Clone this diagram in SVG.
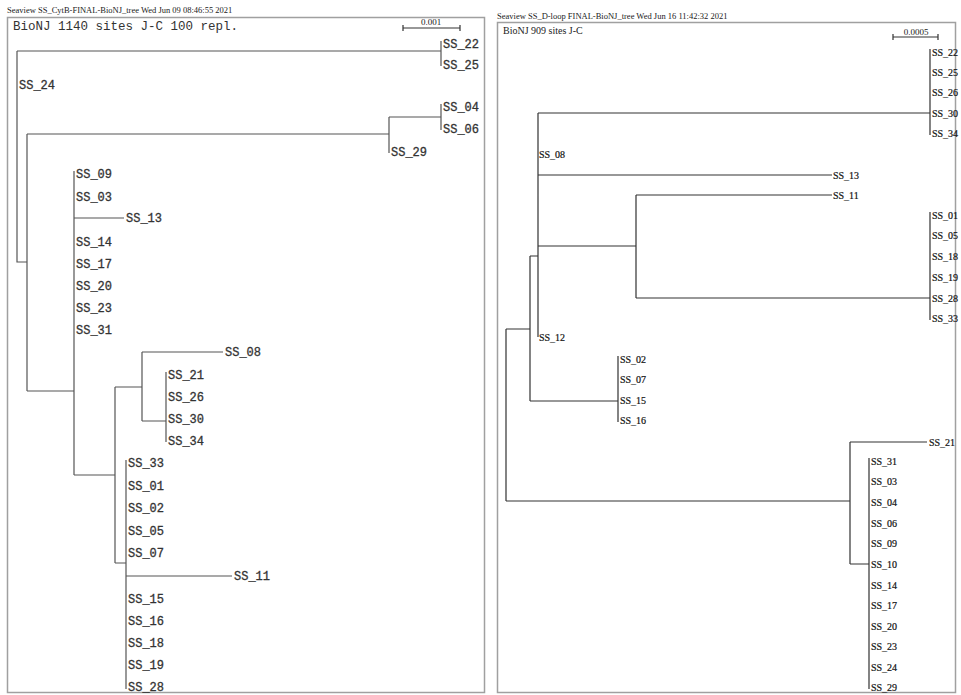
<svg xmlns="http://www.w3.org/2000/svg" width="961" height="695" viewBox="0 0 961 695">
<style>
.frame{fill:#fff;stroke:#a0a0a0;stroke-width:1.5}
.br{fill:none;stroke:#555;stroke-width:1.2}
.brr{fill:none;stroke:#333;stroke-width:1.2}
.hdr{font-family:"Liberation Serif",serif;font-size:8.5px;fill:#222}
.lt{font-family:"Liberation Mono",monospace;font-size:12px;fill:#333;stroke:#333;stroke-width:0.3}
.rt{font-family:"Liberation Serif",serif;font-size:10px;fill:#111;stroke:#111;stroke-width:0.2}
.ttl{font-family:"Liberation Serif",serif;font-size:10px;fill:#222}
.sc{font-family:"Liberation Serif",serif;font-size:9px;fill:#222;text-anchor:middle}
</style>
<rect width="961" height="695" fill="#fff"/>
<g id="left-panel">
<text class="hdr" x="7" y="13">Seaview   SS_CytB-FINAL-BioNJ_tree   Wed Jun 09 08:46:55 2021</text>
<rect class="frame" x="7.5" y="17.5" width="477" height="675"/>
<text x="13" y="30" font-family="Liberation Mono, monospace" font-size="12.5" fill="#333">BioNJ 1140 sites J-C 100 repl.</text>
<g id="left-scale">
<path class="brr" d="M403,28 H460 M403,25 V31 M460,25 V31"/>
<text class="sc" x="431" y="25">0.001</text>
</g>
</g>
<g id="right-panel">
<text class="hdr" x="497" y="19">Seaview   SS_D-loop FINAL-BioNJ_tree   Wed Jun 16 11:42:32 2021</text>
<rect class="frame" x="497.5" y="22.5" width="458" height="670"/>
<text class="ttl" x="503" y="33.5">BioNJ 909 sites J-C</text>
<g id="right-scale">
<path class="brr" d="M893,37 H938 M893,34 V40 M938,34 V40"/>
<text class="sc" x="916" y="35">0.0005</text>
</g>
</g>
<g id="connectors">
<path class="br" d="M17,51 H441 M441,41 V66 M17,51 V262 H27 M27,134 V391 M27,134 H389 M389,117 V153 M389,117 H441 M441,104 V130 M27,391 H74 M74,171 V475 M74,218 H124 M74,475 H115 M115,387 V563 M115,387 H142 M142,352 V421 M142,352 H223 M142,421 H166 M166,372 V442 M115,563 H126 M126,460 V689 M126,576 H232"/>
<path class="brr" d="M930,49 V135 M538,113 H930 M538,113 V337 M538,175 H832 M538,246 H636 M636,195 V298 M636,195 H832 M636,298 H930 M930,212 V320 M530,256 H538 M530,256 V401 M530,401 H618 M618,356 V422 M506,329 H530 M506,329 V501 M506,501 H850 M850,442 V564 M850,442 H927 M850,564 H869 M869,458 V689"/>
</g>
<g id="left-tips" class="lt">
<g id="L_SS_22"><text x="443" y="48">SS_22</text></g>
<g id="L_SS_25"><text x="443" y="69">SS_25</text></g>
<g id="L_SS_24"><text x="19" y="89">SS_24</text></g>
<g id="L_SS_04"><text x="443" y="111">SS_04</text></g>
<g id="L_SS_06"><text x="443" y="133">SS_06</text></g>
<g id="L_SS_29"><text x="391" y="156">SS_29</text></g>
<g id="L_SS_09"><text x="76" y="178">SS_09</text></g>
<g id="L_SS_03"><text x="76" y="201">SS_03</text></g>
<g id="L_SS_13"><text x="126" y="222">SS_13</text></g>
<g id="L_SS_14"><text x="76" y="246">SS_14</text></g>
<g id="L_SS_17"><text x="76" y="268">SS_17</text></g>
<g id="L_SS_20"><text x="76" y="290">SS_20</text></g>
<g id="L_SS_23"><text x="76" y="312">SS_23</text></g>
<g id="L_SS_31"><text x="76" y="334">SS_31</text></g>
<g id="L_SS_08"><text x="225" y="356">SS_08</text></g>
<g id="L_SS_21"><text x="168" y="379">SS_21</text></g>
<g id="L_SS_26"><text x="168" y="401">SS_26</text></g>
<g id="L_SS_30"><text x="168" y="423">SS_30</text></g>
<g id="L_SS_34"><text x="168" y="445">SS_34</text></g>
<g id="L_SS_33"><text x="128" y="467">SS_33</text></g>
<g id="L_SS_01"><text x="128" y="490">SS_01</text></g>
<g id="L_SS_02"><text x="128" y="512">SS_02</text></g>
<g id="L_SS_05"><text x="128" y="535">SS_05</text></g>
<g id="L_SS_07"><text x="128" y="557">SS_07</text></g>
<g id="L_SS_11"><text x="234" y="580">SS_11</text></g>
<g id="L_SS_15"><text x="128" y="603">SS_15</text></g>
<g id="L_SS_16"><text x="128" y="625">SS_16</text></g>
<g id="L_SS_18"><text x="128" y="647">SS_18</text></g>
<g id="L_SS_19"><text x="128" y="669">SS_19</text></g>
<g id="L_SS_28"><text x="128" y="691">SS_28</text></g>
</g>
<g id="right-tips" class="rt">
<g id="R_SS_22"><text x="932" y="55.5">SS_22</text></g>
<g id="R_SS_25"><text x="932" y="75.5">SS_25</text></g>
<g id="R_SS_26"><text x="932" y="95.5">SS_26</text></g>
<g id="R_SS_30"><text x="932" y="116.5">SS_30</text></g>
<g id="R_SS_34"><text x="932" y="136.5">SS_34</text></g>
<g id="R_SS_08"><text x="539" y="157.5">SS_08</text></g>
<g id="R_SS_13"><text x="833" y="178.5">SS_13</text></g>
<g id="R_SS_11"><text x="833" y="198.5">SS_11</text></g>
<g id="R_SS_01"><text x="932" y="218.5">SS_01</text></g>
<g id="R_SS_05"><text x="932" y="238.5">SS_05</text></g>
<g id="R_SS_18"><text x="932" y="259.5">SS_18</text></g>
<g id="R_SS_19"><text x="932" y="280.5">SS_19</text></g>
<g id="R_SS_28"><text x="932" y="301.5">SS_28</text></g>
<g id="R_SS_33"><text x="932" y="321.5">SS_33</text></g>
<g id="R_SS_12"><text x="539" y="340.5">SS_12</text></g>
<g id="R_SS_02"><text x="620" y="362.5">SS_02</text></g>
<g id="R_SS_07"><text x="620" y="382.5">SS_07</text></g>
<g id="R_SS_15"><text x="620" y="403.5">SS_15</text></g>
<g id="R_SS_16"><text x="620" y="423.5">SS_16</text></g>
<g id="R_SS_21"><text x="929" y="445.5">SS_21</text></g>
<g id="R_SS_31"><text x="871" y="464.5">SS_31</text></g>
<g id="R_SS_03"><text x="871" y="484.5">SS_03</text></g>
<g id="R_SS_04"><text x="871" y="505.5">SS_04</text></g>
<g id="R_SS_06"><text x="871" y="526.5">SS_06</text></g>
<g id="R_SS_09"><text x="871" y="546.5">SS_09</text></g>
<g id="R_SS_10"><text x="871" y="567.5">SS_10</text></g>
<g id="R_SS_14"><text x="871" y="588.5">SS_14</text></g>
<g id="R_SS_17"><text x="871" y="608.5">SS_17</text></g>
<g id="R_SS_20"><text x="871" y="629.5">SS_20</text></g>
<g id="R_SS_23"><text x="871" y="649.5">SS_23</text></g>
<g id="R_SS_24"><text x="871" y="670.5">SS_24</text></g>
<g id="R_SS_29"><text x="871" y="690.5">SS_29</text></g>
</g>
</svg>
